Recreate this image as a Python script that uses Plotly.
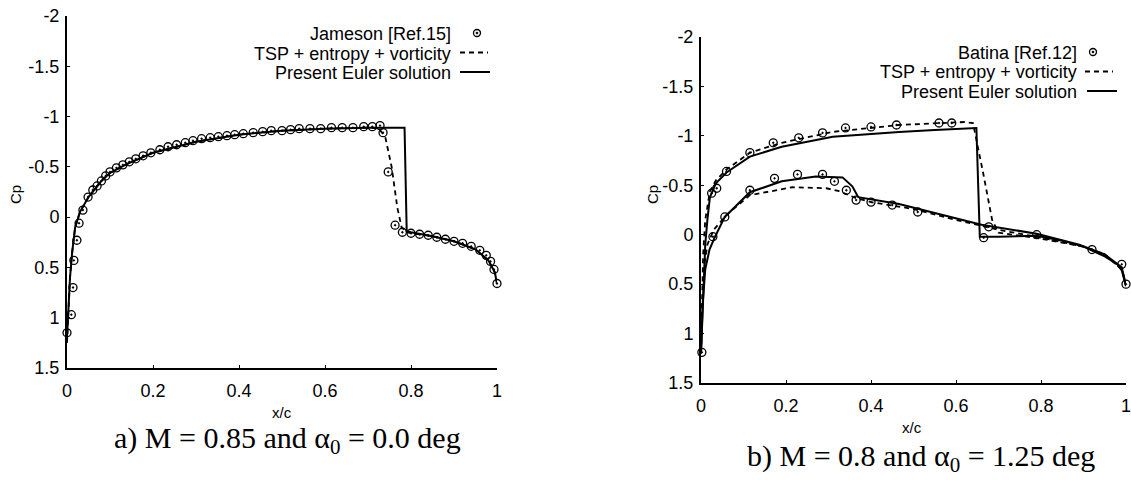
import plotly.graph_objects as go

W, H = 1131, 480

# ---------------- data: panel a) M = 0.85, alpha = 0 ----------------
a_euler_x = [0.0, 0.003, 0.007, 0.012, 0.019, 0.03, 0.05, 0.08, 0.10, 0.14, 0.20, 0.30, 0.40, 0.50,
             0.60, 0.70, 0.785, 0.79, 0.80, 0.85, 0.90, 0.95, 0.98, 0.995, 1.0]
a_euler_cp = [1.2, 0.9, 0.6, 0.35, 0.1, -0.05, -0.2, -0.36, -0.44, -0.53, -0.64, -0.75, -0.82, -0.86,
              -0.88, -0.89, -0.89, 0.14, 0.15, 0.19, 0.24, 0.32, 0.43, 0.55, 0.66]
a_tsp_x = [0.0, 0.003, 0.007, 0.012, 0.019, 0.03, 0.05, 0.08, 0.10, 0.14, 0.20, 0.30, 0.40, 0.50,
           0.60, 0.70, 0.725, 0.74, 0.755, 0.768, 0.778, 0.79, 0.80, 0.85, 0.90, 0.95, 0.98, 0.995, 1.0]
a_tsp_cp = [1.25, 0.9, 0.6, 0.35, 0.1, -0.05, -0.2, -0.36, -0.44, -0.53, -0.64, -0.75, -0.82, -0.86,
            -0.88, -0.89, -0.88, -0.8, -0.5, -0.1, 0.1, 0.15, 0.16, 0.19, 0.24, 0.32, 0.43, 0.55, 0.66]
a_jam_x = [0.0, 0.01, 0.014, 0.016, 0.023, 0.028, 0.037, 0.049, 0.06, 0.07, 0.08, 0.09, 0.10, 0.115,
           0.13, 0.145, 0.16, 0.177, 0.195, 0.216, 0.235, 0.255, 0.275, 0.293, 0.313, 0.333, 0.352,
           0.372, 0.39, 0.41, 0.433, 0.455, 0.475, 0.50, 0.52, 0.54, 0.565, 0.59, 0.615, 0.64, 0.665,
           0.69, 0.71, 0.728, 0.735, 0.747, 0.763, 0.78, 0.80, 0.82, 0.84, 0.86, 0.88, 0.90, 0.92,
           0.94, 0.96, 0.975, 0.985, 0.993, 1.0]
a_jam_cp = [1.15, 0.97, 0.70, 0.43, 0.23, 0.06, -0.07, -0.20, -0.27, -0.31, -0.36, -0.41, -0.45, -0.49,
            -0.52, -0.55, -0.58, -0.61, -0.64, -0.67, -0.70, -0.72, -0.74, -0.76, -0.78, -0.79, -0.80,
            -0.81, -0.82, -0.83, -0.84, -0.85, -0.86, -0.86, -0.87, -0.88, -0.88, -0.88, -0.89, -0.89, -0.89,
            -0.90, -0.90, -0.91, -0.84, -0.45, 0.08, 0.15, 0.16, 0.17, 0.18, 0.20, 0.22, 0.24, 0.26,
            0.29, 0.33, 0.38, 0.44, 0.52, 0.66]

# ---------------- data: panel b) M = 0.8, alpha = 1.25 ----------------
b_euler_up_x = [0.0, 0.003, 0.006, 0.01, 0.015, 0.021, 0.035, 0.06, 0.115, 0.19, 0.31, 0.42, 0.466,
                0.55, 0.637, 0.648, 0.656, 0.70, 0.79, 0.85, 0.90, 0.95, 0.98, 0.99, 1.0]
b_euler_up_cp = [1.2, 0.8, 0.4, 0.1, -0.15, -0.38, -0.52, -0.63, -0.79, -0.89, -0.99, -1.03, -1.04,
                 -1.06, -1.08, -1.08, 0.02, 0.02, 0.01, 0.06, 0.12, 0.22, 0.3, 0.36, 0.52]
b_euler_lo_x = [0.0, 0.004, 0.01, 0.02, 0.033, 0.056, 0.115, 0.19, 0.27, 0.333, 0.356, 0.37, 0.466,
                0.567, 0.66, 0.79, 0.89, 0.95, 0.99, 1.0]
b_euler_lo_cp = [1.2, 0.7, 0.35, 0.15, 0.02, -0.18, -0.43, -0.54, -0.59, -0.58, -0.49, -0.38, -0.31,
                 -0.2, -0.1, -0.01, 0.1, 0.2, 0.33, 0.52]
b_tsp_up_x = [0.0, 0.002, 0.005, 0.01, 0.021, 0.035, 0.06, 0.115, 0.19, 0.31, 0.466, 0.62, 0.64,
              0.665, 0.685, 0.70, 0.80, 0.90, 0.95, 0.99, 1.0]
b_tsp_up_cp = [1.2, 0.6, 0.2, -0.15, -0.44, -0.55, -0.66, -0.83, -0.93, -1.04, -1.11, -1.14, -1.13,
               -0.6, -0.15, -0.02, 0.04, 0.12, 0.2, 0.35, 0.5]
b_tsp_lo_x = [0.0, 0.003, 0.008, 0.015, 0.03, 0.06, 0.115, 0.215, 0.295, 0.325, 0.365, 0.40, 0.50,
              0.60, 0.70, 0.80, 0.90, 0.95, 0.99, 1.0]
b_tsp_lo_cp = [1.2, 0.7, 0.3, 0.1, -0.05, -0.2, -0.40, -0.48, -0.47, -0.44, -0.37, -0.33, -0.26,
               -0.15, -0.05, 0.03, 0.12, 0.2, 0.35, 0.5]
b_bat_x = [0.002, 0.025, 0.037, 0.06, 0.115, 0.17, 0.23, 0.286, 0.34, 0.40, 0.46, 0.56, 0.59,
           0.028, 0.056, 0.115, 0.173, 0.227, 0.286, 0.314, 0.342, 0.365, 0.40, 0.45, 0.51,
           0.665, 0.677, 0.79, 0.92, 0.99, 1.0]
b_bat_cp = [1.19, -0.42, -0.47, -0.64, -0.83, -0.93, -0.98, -1.03, -1.08, -1.09, -1.11, -1.13, -1.13,
            0.02, -0.18, -0.45, -0.57, -0.61, -0.61, -0.54, -0.45, -0.35, -0.33, -0.30, -0.23,
            0.03, -0.08, 0.0, 0.15, 0.3, 0.5]

y_ticks = [-2, -1.5, -1, -0.5, 0, 0.5, 1, 1.5]
y_ticktext = ["-2", "-1.5", "-1", "-0.5", "0", "0.5", "1", "1.5"]
x_ticks = [0, 0.2, 0.4, 0.6, 0.8, 1.0]
x_ticktext = ["0", "0.2", "0.4", "0.6", "0.8", "1"]

legend_a = ["Jameson [Ref.15]", "TSP + entropy + vorticity", "Present Euler solution"]
legend_b = ["Batina [Ref.12]", "TSP + entropy + vorticity", "Present Euler solution"]
caption_a = "a) M = 0.85 and α<sub>0</sub> = 0.0 deg"
caption_b = "b) M = 0.8 and α<sub>0</sub> = 1.25 deg"

# ---------------- figure ----------------
def px(x):
    return x / W

def py(y):
    return 1 - y / H

fig = go.Figure()

solid = dict(color="black", width=2)
dashed = dict(color="black", width=1.8, dash="5px,4px")
marker = dict(symbol="circle-open-dot", size=8, color="black", line=dict(color="black", width=1.3))

fig.add_trace(go.Scatter(x=a_tsp_x, y=a_tsp_cp, mode="lines", line=dashed, xaxis="x", yaxis="y"))
fig.add_trace(go.Scatter(x=a_euler_x, y=a_euler_cp, mode="lines", line=solid, xaxis="x", yaxis="y"))
fig.add_trace(go.Scatter(x=a_jam_x, y=a_jam_cp, mode="markers", marker=marker, cliponaxis=False,
                         xaxis="x", yaxis="y"))

fig.add_trace(go.Scatter(x=b_tsp_up_x, y=b_tsp_up_cp, mode="lines", line=dashed, xaxis="x2", yaxis="y2"))
fig.add_trace(go.Scatter(x=b_tsp_lo_x, y=b_tsp_lo_cp, mode="lines", line=dashed, xaxis="x2", yaxis="y2"))
fig.add_trace(go.Scatter(x=b_euler_up_x, y=b_euler_up_cp, mode="lines", line=solid, xaxis="x2", yaxis="y2"))
fig.add_trace(go.Scatter(x=b_euler_lo_x, y=b_euler_lo_cp, mode="lines", line=solid, xaxis="x2", yaxis="y2"))
fig.add_trace(go.Scatter(x=b_bat_x, y=b_bat_cp, mode="markers", marker=marker, cliponaxis=False,
                         xaxis="x2", yaxis="y2"))

tickfont = dict(family="Liberation Sans, Arial, sans-serif", size=18, color="black")
xax = dict(range=[0, 1], tickvals=x_ticks, ticktext=x_ticktext, showgrid=False, zeroline=False,
           showline=True, linecolor="black", linewidth=2, ticks="inside", ticklen=3, tickwidth=1,
           tickcolor="black", tickfont=tickfont, ticklabelstandoff=5, automargin=False,
           ticklabeloverflow="allow")
yax = dict(range=[1.5, -2], tickvals=y_ticks, ticktext=y_ticktext, showgrid=False, zeroline=False,
           showline=True, linecolor="black", linewidth=2, ticks="inside", ticklen=3, tickwidth=1,
           tickcolor="black", tickfont=tickfont, ticklabelstandoff=2, automargin=False,
           ticklabeloverflow="allow")

fig.update_layout(
    width=W, height=H, margin=dict(l=0, r=0, t=0, b=0, pad=0),
    paper_bgcolor="white", plot_bgcolor="white", showlegend=False,
    xaxis=dict(domain=[px(67), px(497)], anchor="y", **xax),
    yaxis=dict(domain=[py(368), py(16)], anchor="x", **yax),
    xaxis2=dict(domain=[px(701), px(1126)], anchor="y2", **xax),
    yaxis2=dict(domain=[py(383), py(37)], anchor="x2", **yax),
)

lab_font = dict(family="Liberation Sans, Arial, sans-serif", size=15, color="black")
leg_font = dict(family="Liberation Sans, Arial, sans-serif", size=18, color="black")
cap_font = dict(family="Liberation Serif, Times New Roman, serif", size=30, color="black")

def note(x, y, text, font, xanchor="center", angle=0):
    return dict(x=px(x), y=py(y), text=text, showarrow=False, font=font, textangle=angle,
                xanchor=xanchor, yanchor="middle", xref="paper", yref="paper")

ann = []
# axis titles
ann.append(note(15, 195, "Cp", lab_font, angle=-90))
ann.append(note(652, 195, "Cp", lab_font, angle=-90))
ann.append(note(282, 412, "x/c", lab_font))
ann.append(note(912, 427, "x/c", lab_font))
# captions
ann.append(note(287, 440, caption_a, cap_font))
ann.append(note(921, 458, caption_b, cap_font))
# legend texts
for i, t in enumerate(legend_a):
    ann.append(note(453, 34 + 19.5 * i, t, leg_font, xanchor="right"))
for i, t in enumerate(legend_b):
    ann.append(note(1079, 53 + 19.5 * i, t, leg_font, xanchor="right"))

shapes = []
def legend_symbols(cx_circle, y0, x_dash0, x_dash1, x_sol0, x_sol1):
    r = 3.5
    shapes.append(dict(type="circle", xref="paper", yref="paper",
                       x0=px(cx_circle - r), x1=px(cx_circle + r), y0=py(y0 + r), y1=py(y0 - r),
                       line=dict(color="black", width=1.3)))
    shapes.append(dict(type="circle", xref="paper", yref="paper",
                       x0=px(cx_circle - 0.9), x1=px(cx_circle + 0.9), y0=py(y0 + 0.9), y1=py(y0 - 0.9),
                       line=dict(color="black", width=1), fillcolor="black"))
    shapes.append(dict(type="line", xref="paper", yref="paper",
                       x0=px(x_dash0), x1=px(x_dash1), y0=py(y0 + 19.5), y1=py(y0 + 19.5),
                       line=dict(color="black", width=1.8, dash="5px,4px")))
    shapes.append(dict(type="line", xref="paper", yref="paper",
                       x0=px(x_sol0), x1=px(x_sol1), y0=py(y0 + 39), y1=py(y0 + 39),
                       line=dict(color="black", width=2)))

legend_symbols(477, 33, 460, 488, 460, 490)
legend_symbols(1093, 52, 1085, 1113, 1087, 1117)

fig.update_layout(annotations=ann, shapes=shapes)

fig.write_html("out.html", config={"displayModeBar": False},
               post_script="document.body.style.margin='0';document.body.style.overflow='hidden';")
